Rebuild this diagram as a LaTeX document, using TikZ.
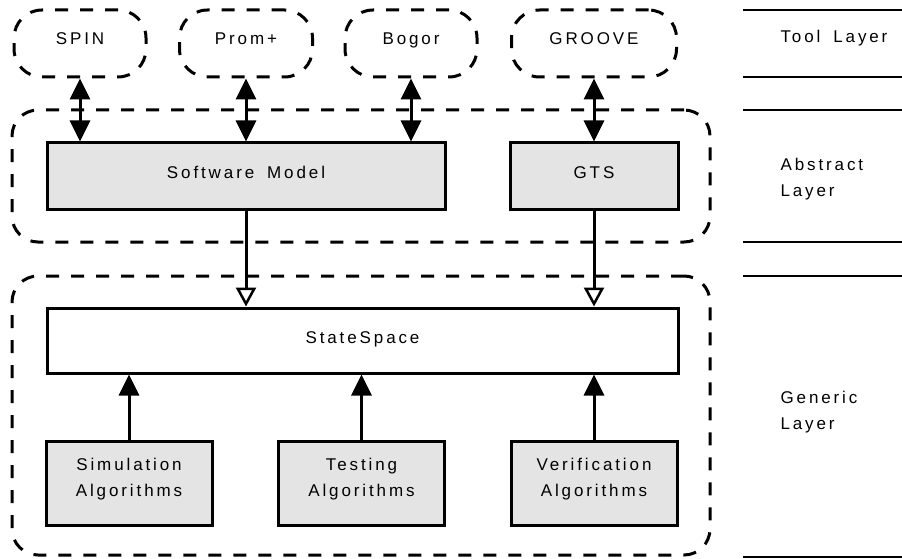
\documentclass[tikz,border=0pt]{standalone}
\usepackage{fontspec}
\setmainfont{Liberation Sans}[LetterSpace=17,WordSpace=1.7]
\usepackage{tikz}
\usetikzlibrary{arrows.meta}
\usepackage{xcolor}
\definecolor{Partgray}{RGB}{228,228,228}

\begin{document}
\begin{tikzpicture}[x=1pt,y=-1pt,
  font=\fontsize{17}{26}\selectfont,
  tool/.style={draw,dash pattern=on 13pt off 12pt,line width=3pt,rounded corners=28pt,minimum height=67pt,text height=12pt,text depth=9pt},
  layer/.style={draw,dash pattern=on 13pt off 12pt,line width=3pt,rounded corners=26pt,minimum width=698pt},
  part/.style={draw,line width=3pt,fill=Partgray,minimum height=66pt,text height=12pt,text depth=7pt},
  algo/.style={draw,line width=3pt,fill=Partgray,minimum width=166pt,minimum height=84pt,align=center,text depth=11pt},
  uses/.style={line width=3pt,{Triangle[length=21pt,width=20pt]}-{Triangle[length=21pt,width=20pt]}},
  gives/.style={line width=3pt,-{Triangle[open,length=19pt,width=20pt,line width=2.5pt]}},
  reads/.style={line width=3pt,-{Triangle[length=21pt,width=20pt]}},
  sep/.style={line width=1.3pt},
  layername/.style={anchor=west,align=left}]
\useasboundingbox (0,0) rectangle (902,559);
%
% layers
\node[layer,minimum height=132pt] (abstract) at (361,176) {};
\node[layer,minimum height=279pt] (generic) at (361,415.5) {};
\foreach \y in {10,77,110,242,276,557}
  \draw[sep] (743,\y) -- (902,\y);
\node[layername] (toolname) at (777,38.5) {Tool Layer};
\node[layername] (abstractname) at (777,179) {Abstract\\Layer};
\node[layername] (genericname) at (777,412) {Generic\\Layer};
%
% tools
\node[tool,minimum width=132pt] (spin) at (80,43.5) {SPIN};
\node[tool,minimum width=133pt] (prom) at (246,43.5) {Prom+};
\node[tool,minimum width=132pt] (bogor) at (411,43.5) {Bogor};
\node[tool,minimum width=165pt] (groove) at (594,43.5) {GROOVE};
%
% models and state space
\node[part,minimum width=398pt] (swm) at (246,176) {Software Model};
\node[part,minimum width=168pt] (gts) at (594,176) {GTS};
\node[part,minimum width=631pt,minimum height=65pt,fill=white] (state) at (362.5,340.5) {StateSpace};
\node[algo] (sim) at (129,483) {Simulation\\Algorithms};
\node[algo] (test) at (361.5,483) {Testing\\Algorithms};
\node[algo] (verif) at (594,483) {Verification\\Algorithms};
%
\draw[uses] (spin.south) -- (spin.south |- swm.north);
\draw[uses] (prom.south) -- (prom.south |- swm.north);
\draw[uses] (bogor.south) -- (bogor.south |- swm.north);
\draw[uses] (groove.south) -- (groove.south |- gts.north);
\draw[gives] (swm.south) -- (swm.south |- state.north);
\draw[gives] (gts.south) -- (gts.south |- state.north);
\draw[reads] (sim.north) -- (sim.north |- state.south);
\draw[reads] (test.north) -- (test.north |- state.south);
\draw[reads] (verif.north) -- (verif.north |- state.south);
%
\end{tikzpicture}
\end{document}
